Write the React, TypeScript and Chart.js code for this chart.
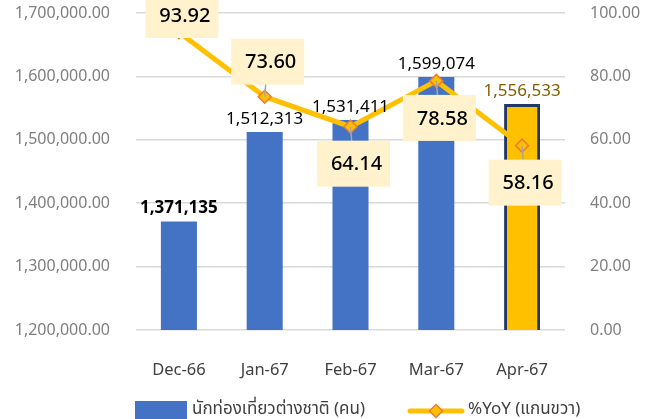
import React, { useEffect, useRef } from "react";
import { Chart, registerables } from "chart.js";

Chart.register(...registerables);

const categories = ["Dec-66", "Jan-67", "Feb-67", "Mar-67", "Apr-67"];
const tourists = [1371135, 1512313, 1531411, 1599074, 1556533];
const yoy = [93.92, 73.6, 64.14, 78.58, 58.16];
const yoyLabelSide = ["above", "above", "below", "below", "below"];
const leftTicks = [1200000, 1300000, 1400000, 1500000, 1600000, 1700000];
const rightTicks = [0, 20, 40, 60, 80, 100];
const barLegend = "นักท่องเที่ยวต่างชาติ (คน)";
const lineLegend = "%YoY (แกนขวา)";

const FONT = "'Noto Sans', 'Noto Sans Thai', Tahoma, sans-serif";
const BLUE = "#4472C4";
const YELLOW = "#FFC000";
const ORANGE = "#ED7D31";
const NAVY = "#203864";
const BOX = "#FFF2CC";

const barColors = [BLUE, BLUE, BLUE, BLUE, YELLOW];
const barBorderWidths = [0, 0, 0, 0, 3];
const barLabelColors = ["#000000", "#000000", "#000000", "#000000", "#7F6000"];
const barLabelWeights = ["bold", "normal", "normal", "normal", "normal"];

const labelPlugin = {
  id: "customLabels",
  afterDatasetsDraw(chart: any) {
    const ctx = chart.ctx;
    const barMeta = chart.getDatasetMeta(1);
    const lineMeta = chart.getDatasetMeta(0);
    ctx.save();
    barMeta.data.forEach((el: any, i: number) => {
      ctx.font = `${barLabelWeights[i]} 17px ${FONT}`;
      ctx.fillStyle = barLabelColors[i];
      ctx.textAlign = "center";
      ctx.textBaseline = "middle";
      ctx.fillText(tourists[i].toLocaleString("en-US"), el.x, el.y - 13);
    });
    const bw = 73;
    const bh = 46;
    lineMeta.data.forEach((el: any, i: number) => {
      let cy = yoyLabelSide[i] === "above" ? el.y - 35 : el.y + 37;
      if (cy - bh / 2 < -8) cy = -8 + bh / 2;
      const cx = el.x + 3;
      ctx.strokeStyle = "#A6A6A6";
      ctx.lineWidth = 1.5;
      ctx.beginPath();
      ctx.moveTo(el.x, el.y);
      ctx.lineTo(cx, cy);
      ctx.stroke();
      ctx.fillStyle = BOX;
      ctx.fillRect(cx - bw / 2, cy - bh / 2, bw, bh);
      ctx.font = `500 20px ${FONT}`;
      ctx.fillStyle = "#000000";
      ctx.textAlign = "center";
      ctx.textBaseline = "middle";
      ctx.fillText(yoy[i].toFixed(2), cx + 3, cy + 1);
    });
    ctx.restore();
  },
  afterDraw(chart: any) {
    const ctx = chart.ctx;
    ctx.save();
    const ly = 409;
    ctx.fillStyle = BLUE;
    ctx.fillRect(135, 401, 52, 18);
    ctx.font = `17px ${FONT}`;
    ctx.fillStyle = "#404040";
    ctx.textAlign = "left";
    ctx.textBaseline = "middle";
    ctx.fillText(barLegend, 192, ly);
    ctx.strokeStyle = YELLOW;
    ctx.lineWidth = 5;
    ctx.lineCap = "round";
    ctx.beginPath();
    ctx.moveTo(410, ly + 2);
    ctx.lineTo(462, ly + 2);
    ctx.stroke();
    ctx.fillStyle = YELLOW;
    ctx.strokeStyle = ORANGE;
    ctx.lineWidth = 1.5;
    ctx.beginPath();
    const dx = 436, dy = ly + 2, r = 6.5;
    ctx.moveTo(dx, dy - r);
    ctx.lineTo(dx + r, dy);
    ctx.lineTo(dx, dy + r);
    ctx.lineTo(dx - r, dy);
    ctx.closePath();
    ctx.fill();
    ctx.stroke();
    ctx.fillStyle = "#404040";
    ctx.fillText(lineLegend, 468, ly);
    ctx.restore();
  },
};

export default function App() {
  const ref = useRef<HTMLCanvasElement>(null);
  useEffect(() => {
    if (!ref.current) return;
    Chart.defaults.font.family = FONT;
    const chart = new Chart(ref.current, {
      type: "bar",
      data: {
        labels: categories,
        datasets: [
          {
            type: "line",
            label: lineLegend,
            data: yoy,
            yAxisID: "y1",
            borderColor: YELLOW,
            borderWidth: 5,
            backgroundColor: YELLOW,
            pointStyle: "rectRot",
            pointRadius: 6.5,
            pointBorderColor: ORANGE,
            pointBackgroundColor: YELLOW,
            pointBorderWidth: 1.5,
            tension: 0,
            order: 0,
          } as any,
          {
            type: "bar",
            label: barLegend,
            data: tourists,
            yAxisID: "y",
            backgroundColor: barColors,
            borderColor: NAVY,
            borderWidth: barBorderWidths,
            borderSkipped: false,
            categoryPercentage: 1,
            barPercentage: 0.42,
            order: 1,
          } as any,
        ],
      },
      options: {
        responsive: false,
        animation: false,
        layout: { padding: { top: 13, left: 0, right: 0, bottom: 0 } },
        plugins: { legend: { display: false }, tooltip: { enabled: false } },
        scales: {
          x: {
            grid: { display: false },
            border: { display: false },
            ticks: { color: "#404040", font: { size: 16.5 }, padding: 22 },
            afterFit: (s: any) => {
              s.height = 89;
              s.paddingLeft = 0;
              s.paddingRight = 0;
            },
          },
          y: {
            position: "left",
            min: leftTicks[0],
            max: leftTicks[leftTicks.length - 1],
            afterBuildTicks: (s: any) => {
              s.ticks = leftTicks.map((v) => ({ value: v }));
            },
            grid: { color: "#D9D9D9", lineWidth: 1.5, drawTicks: false },
            border: { display: false },
            ticks: {
              color: "#7F7F7F",
              font: { size: 16 },
              padding: 26,
              callback: (v: any) =>
                Number(v).toLocaleString("en-US", { minimumFractionDigits: 2, maximumFractionDigits: 2 }),
            },
            afterFit: (s: any) => {
              s.width = 136;
              s.paddingTop = 0;
              s.paddingBottom = 0;
            },
          },
          y1: {
            position: "right",
            min: 0,
            max: 100,
            afterBuildTicks: (s: any) => {
              s.ticks = rightTicks.map((v) => ({ value: v }));
            },
            grid: { display: false, drawTicks: false },
            border: { display: false },
            ticks: {
              color: "#7F7F7F",
              font: { size: 16 },
              padding: 25,
              callback: (v: any) => Number(v).toFixed(2),
            },
            afterFit: (s: any) => {
              s.width = 88;
              s.paddingTop = 0;
              s.paddingBottom = 0;
            },
          },
        },
      },
      plugins: [labelPlugin],
    });
    return () => chart.destroy();
  }, []);
  return (
    <div style={{ position: "absolute", left: 0, top: 0, width: 653, height: 419, background: "#fff" }}>
      <canvas ref={ref} width={653} height={419} />
    </div>
  );
}
